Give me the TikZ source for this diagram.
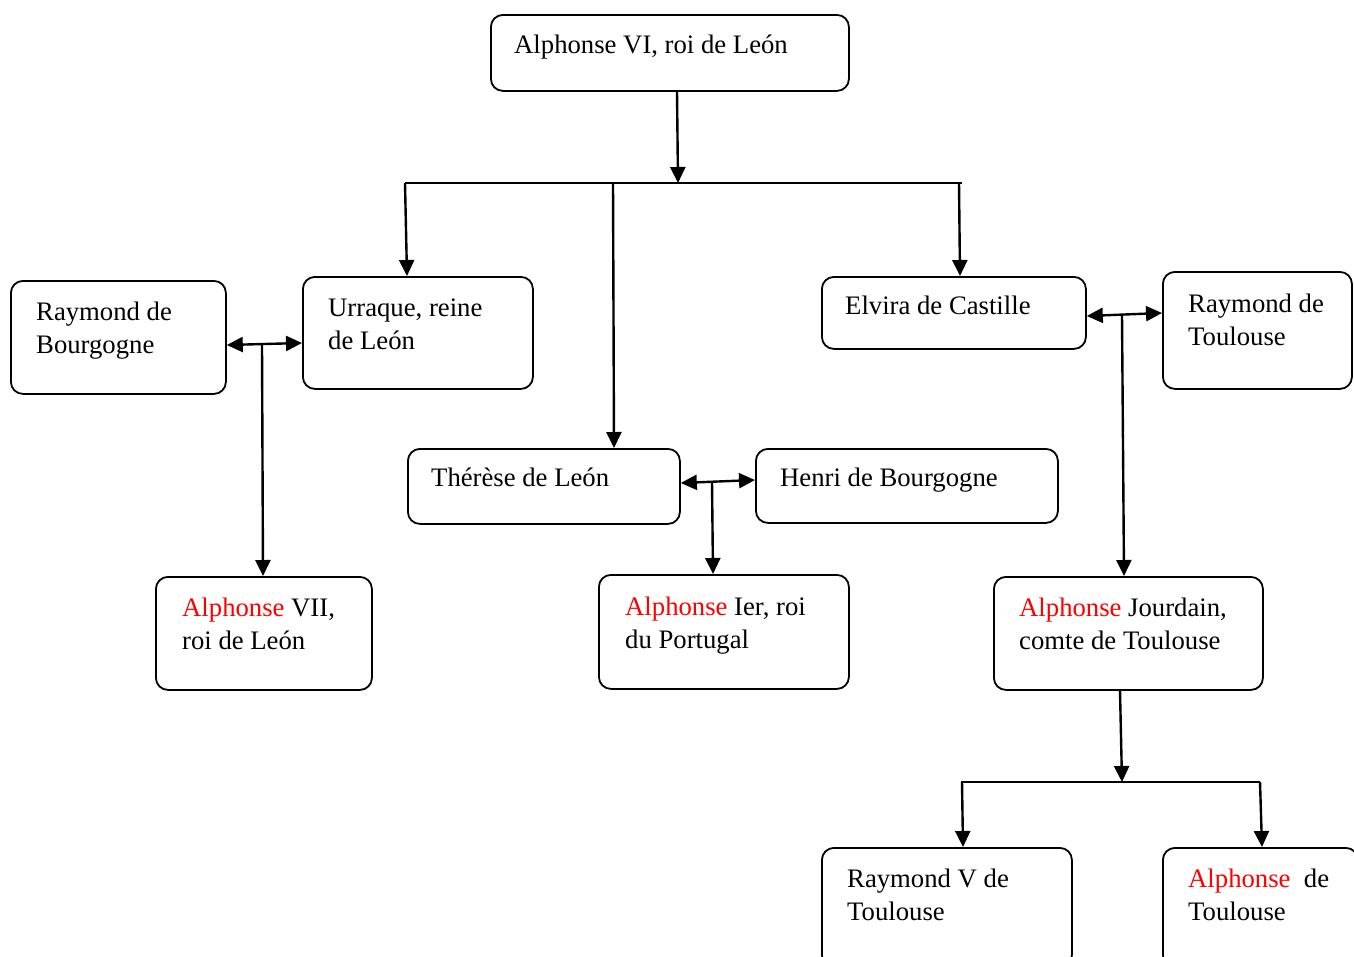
\documentclass[tikz,border=0pt]{standalone}
\usepackage{fontspec}
\setmainfont{Liberation Serif}
\usetikzlibrary{arrows.meta}
\definecolor{redA}{RGB}{255,0,0}
\tikzset{
  box/.style={draw=black, line width=1.8pt, rounded corners=12pt, inner sep=0pt, anchor=north west},
  txt/.style={anchor=base west, inner sep=0pt, font=\fontsize{26.7}{33}\selectfont, align=left},
  conn/.style={line width=2.4pt, -{Triangle[length=16pt,width=15pt]}},
  dconn/.style={line width=2.4pt, {Triangle[length=16pt,width=15pt]}-{Triangle[length=16pt,width=15pt]}},
  plain/.style={line width=2.4pt},
}
\newcommand{\mybox}[5]{\node[box, minimum width=#3-#1, minimum height=#4-#2] (#5) at (#1,#2) {};}
\begin{document}
\begin{tikzpicture}[x=1pt,y=-1pt]
\useasboundingbox (0,0) rectangle (1354,956);
\clip (0,0) rectangle (1354,956);
\fill[white] (0,0) rectangle (1354,956);
% boxes
\mybox{490}{14}{848}{90}{a6}
\mybox{302}{276}{532}{388}{urr}
\mybox{10}{280}{225}{393}{rbo}
\mybox{821}{276}{1085}{348}{elv}
\mybox{1162}{271}{1351}{388}{rto}
\mybox{407}{448}{679}{523}{the}
\mybox{755}{448}{1057}{522}{hen}
\mybox{155}{576}{371}{689}{a7}
\mybox{598}{574}{848}{688}{a1}
\mybox{993}{576}{1262}{689}{ajo}
\mybox{821}{847}{1071}{966}{r5}
\mybox{1162}{847}{1357}{966}{ato}
% texts (multi-line: y is the baseline of the last line)
\node[txt] (ta6) at (514,53) {Alphonse VI, roi de León};
\node[txt] (turr) at (328,349) {Urraque, reine\\de León};
\node[txt] (trbo) at (36,353) {Raymond de\\Bourgogne};
\node[txt] (telv) at (845,314) {Elvira de Castille};
\node[txt] (trto) at (1188,345) {Raymond de\\Toulouse};
\node[txt] (tthe) at (431,486) {Thérèse de León};
\node[txt] (then) at (780,486) {Henri de Bourgogne};
\node[txt] (ta7) at (182,649) {\textcolor{redA}{Alphonse} VII,\\roi de León};
\node[txt] (ta1) at (625,648) {\textcolor{redA}{Alphonse} Ier, roi\\du Portugal};
\node[txt] (tajo) at (1019,649) {\textcolor{redA}{Alphonse} Jourdain,\\comte de Toulouse};
\node[txt] (tr5) at (847,920) {Raymond V de\\Toulouse};
\node[txt] (tato) at (1188,920) {\textcolor{redA}{Alphonse}\ \ de\\Toulouse};
% coordinates
\coordinate (b1) at (678,183);
\coordinate (b1l) at (405,183);
\coordinate (b1m) at (613,183);
\coordinate (b1r) at (962,183);
\coordinate (b1rr) at (959,183);
\coordinate (m1) at (262,345);
\coordinate (m2) at (712,482);
\coordinate (m3) at (1122,316);
\coordinate (b2) at (1122,782);
\coordinate (b2l) at (961,782);
\coordinate (b2r) at (1260,782);
% connectors
\draw[conn] (a6.south -| 677,0) -- (b1);
\draw[plain] (b1l) -- (b1r);
\draw[conn] (b1l) -- (407,276);
\draw[conn] (b1m) -- (614,448);
\draw[conn] (b1rr) -- (960,276);
\draw[dconn] (rbo.east |- 0,345) -- (urr.west |- 0,343);
\draw[conn] (m1) -- (263,576);
\draw[dconn] (the.east |- 0,483) -- (hen.west |- 0,480);
\draw[conn] (m2) -- (713,574);
\draw[dconn] (elv.east |- 0,316) -- (rto.west |- 0,313);
\draw[conn] (m3) -- (1124,576);
\draw[conn] (ajo.south -| 1120,0) -- (b2);
\draw[plain] (b2l) -- (b2r);
\draw[conn] (962,782) -- (963,847);
\draw[conn] (b2r) -- (1262,847);
\end{tikzpicture}
\end{document}
